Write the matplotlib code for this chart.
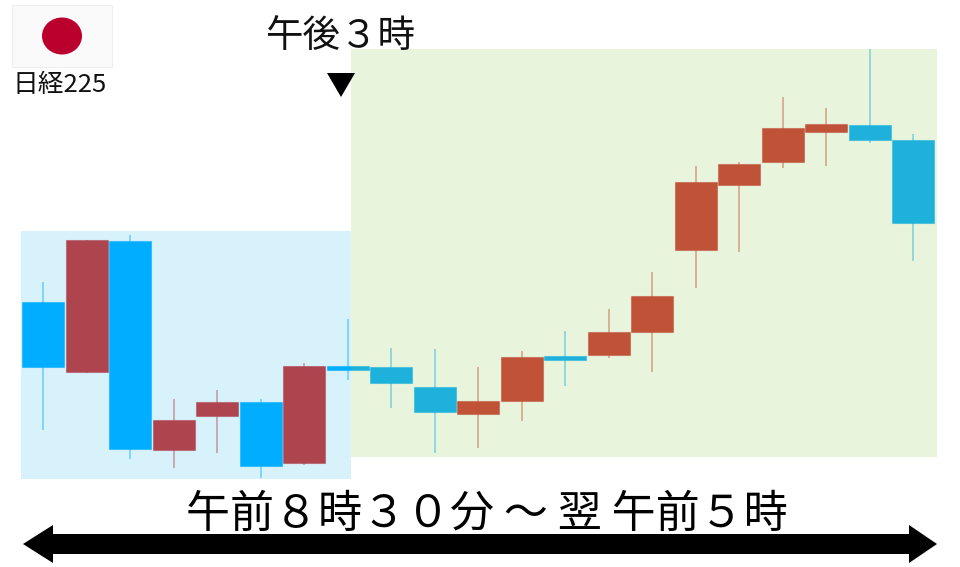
import matplotlib.pyplot as plt
from matplotlib.colors import to_rgba
from matplotlib.patches import Rectangle, Ellipse, Polygon

plt.rcParams['font.family'] = ['Noto Sans CJK JP', 'DejaVu Sans']

# 値は画像のピクセル座標から読み取り
positions = [43.5 * i for i in range(1, 22)]
tops = [302, 239.5, 240.7, 420, 402.3, 402.3, 365.7, 365.7, 366.7, 386.7, 401,
        356.5, 356, 331.5, 296, 182.3, 163.7, 128.3, 124, 125, 140.3]
bottoms = [366.7, 371.7, 449, 450, 416.3, 465.7, 463.3, 369.7, 383.3, 412.3, 413.5,
           401, 359.5, 355, 332, 249.7, 185.3, 162.3, 132.3, 140.3, 222.7]
highs = [282.3, 239.5, 235, 399, 389.7, 399, 363.3, 319, 348, 349, 366.7,
         351, 331, 309, 272, 165.7, 162, 96.7, 108.3, 49, 134.3]
lows = [430.3, 373, 459.3, 467.7, 453.3, 478.3, 465, 380.3, 408.3, 453.3, 448,
        421, 386, 358, 372, 288.3, 251.7, 167.7, 165.7, 142.7, 261]
directions = ['down', 'up', 'down', 'up', 'up', 'down', 'up', 'down', 'down', 'down', 'up',
              'up', 'down', 'up', 'up', 'up', 'up', 'up', 'up', 'down', 'down']

colors_left = {'down': '#00adff', 'up': '#ae444e'}
colors_right = {'down': '#1db1db', 'up': '#c05238'}
body_width = 42

fig = plt.figure(figsize=(9.6, 5.67), dpi=100)
ax = fig.add_axes([0, 0, 1, 1])
ax.set_xlim(0, 960)
ax.set_ylim(567, 0)
ax.axis('off')

# 背景
ax.add_patch(Rectangle((21, 231), 330, 248, color='#d8f2fc', lw=0, zorder=1))
ax.add_patch(Rectangle((351, 49), 586, 408, color='#e8f4dc', lw=0, zorder=1))

clip_left = Rectangle((0, 0), 351, 567, transform=ax.transData)
clip_right = Rectangle((351, 0), 609, 567, transform=ax.transData)

# ローソク足 (午後3時の前後で色を変える)
for palette, clip in [(colors_left, clip_left), (colors_right, clip_right)]:
    for x, t, b, h, l, d in zip(positions, tops, bottoms, highs, lows, directions):
        c = palette[d]
        wick = ax.vlines(x - 0.3, h, l, color=c, lw=1.3, alpha=0.45, zorder=2)
        body = ax.add_patch(Rectangle((x - 0.3 - body_width / 2, t), body_width, b - t,
                                      facecolor=c, edgecolor=to_rgba(c, 0.5), lw=0.8, zorder=3))
        wick.set_clip_path(clip)
        body.set_clip_path(clip)

# 国旗
ax.add_patch(Rectangle((12, 5), 100, 62, facecolor='#fafafa', edgecolor='#eeeeee', lw=0.8, zorder=2))
ax.add_patch(Ellipse((62, 36), 40, 37, color='#bc002d', lw=0, zorder=3))
ax.text(60, 85, '日経225', fontsize=18.5, ha='center', va='center', color='#111111')

# 午後3時
ax.text(341, 37, '午後３時', fontsize=27, ha='center', va='center', color='#111111')
ax.add_patch(Polygon([(327, 73), (355, 73), (341, 97)], color='black', lw=0, zorder=4))

# 下の矢印
ax.text(487, 513.5, '午前８時３０分 ～ 翌 午前５時', fontsize=31.7, ha='center', va='center', color='black')
ax.add_patch(Polygon([(23, 544), (53, 525), (53, 534), (909, 534), (909, 525), (937, 544),
                      (909, 563), (909, 554), (53, 554), (53, 563)],
                     color='black', lw=0, zorder=4))

fig.savefig('out.png', dpi=100)
